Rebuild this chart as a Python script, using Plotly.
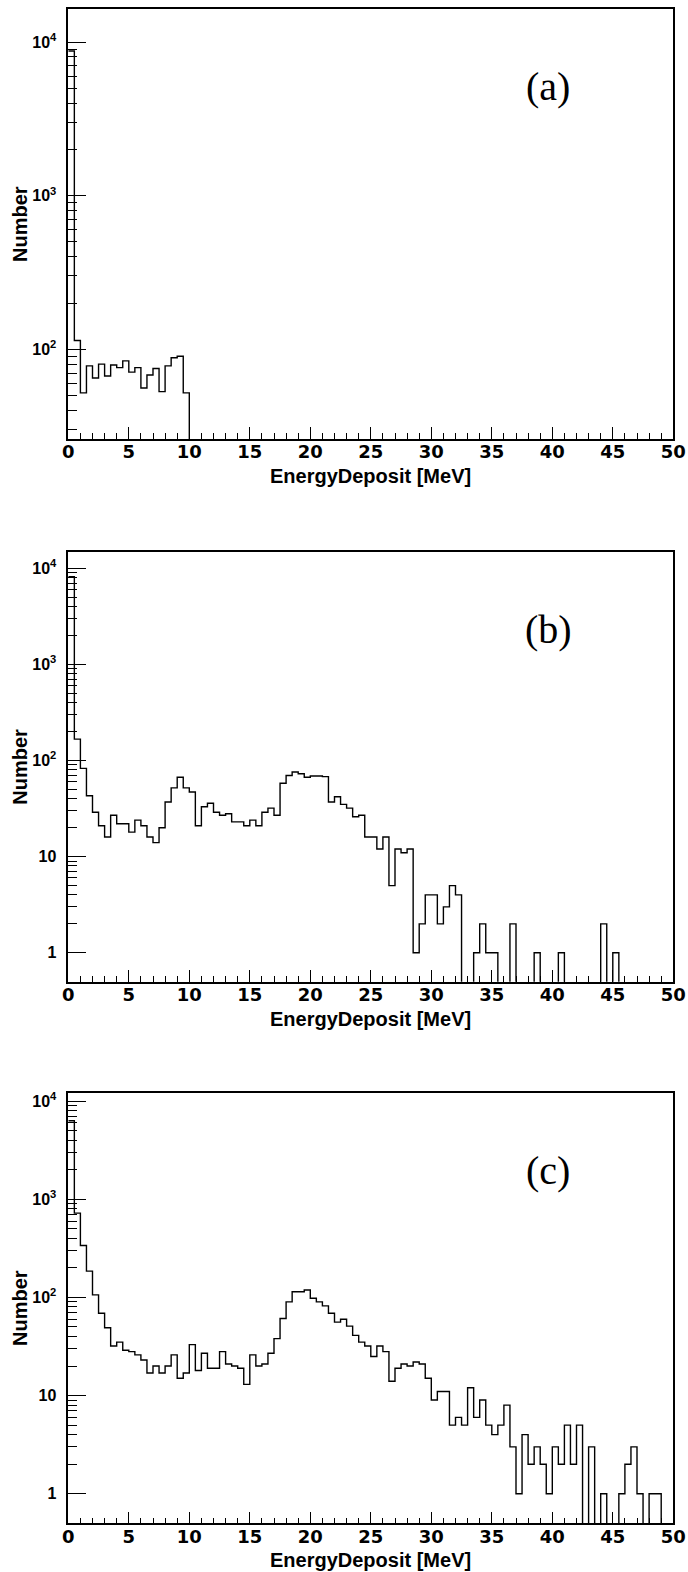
import plotly.graph_objects as go

# ---------------- data (counts per 0.5 MeV bin, 0-50 MeV) ----------------
bin_width = 0.5
n_bins = 100
x_edges = [i * bin_width for i in range(n_bins + 1)]

counts_a = [
    8740, 114, 52, 78, 65, 80, 67, 79, 76, 84,
    71, 76, 56, 68, 75, 53, 78, 88, 90, 52,
    0, 0, 0, 0, 0, 0, 0, 0, 0, 0,
    0, 0, 0, 0, 0, 0, 0, 0, 0, 0,
    0, 0, 0, 0, 0, 0, 0, 0, 0, 0,
    0, 0, 0, 0, 0, 0, 0, 0, 0, 0,
    0, 0, 0, 0, 0, 0, 0, 0, 0, 0,
    0, 0, 0, 0, 0, 0, 0, 0, 0, 0,
    0, 0, 0, 0, 0, 0, 0, 0, 0, 0,
    0, 0, 0, 0, 0, 0, 0, 0, 0, 0,
]

counts_b = [
    8180, 167, 83, 43, 29, 21, 16, 27, 22, 22,
    18, 24, 21, 16, 14, 20, 37, 52, 67, 52,
    47, 21, 33, 36, 29, 27, 28, 23, 23, 21,
    24, 21, 29, 32, 27, 58, 70, 76, 73, 67,
    69, 69, 68, 37, 42, 35, 32, 26, 27, 16,
    16, 12, 16, 5, 12, 11, 12, 1, 2, 4,
    4, 2, 3, 5, 4, 0, 0, 1, 2, 1,
    1, 0, 0, 2, 0, 0, 0, 1, 0, 0,
    0, 1, 0, 0, 0, 0, 0, 0, 2, 0,
    1, 0, 0, 0, 0, 0, 0, 0, 0, 0,
]

counts_c = [
    6310, 722, 338, 185, 106, 69, 49, 32, 35, 29,
    28, 26, 23, 17, 20, 17, 20, 26, 15, 17,
    33, 18, 27, 19, 19, 28, 21, 20, 19, 13,
    26, 20, 21, 27, 38, 61, 90, 114, 114, 119,
    98, 90, 82, 69, 56, 60, 51, 41, 35, 32,
    25, 32, 28, 14, 19, 21, 20, 22, 21, 15,
    9, 11, 11, 5, 6, 5, 12, 6, 9, 5,
    4, 5, 8, 3, 1, 4, 2, 3, 2, 1,
    3, 2, 5, 2, 5, 0, 3, 0, 1, 0,
    0, 1, 2, 3, 1, 0, 1, 1, 0, 0,
]

panel_labels = ["(a)", "(b)", "(c)"]
x_title = "EnergyDeposit [MeV]"
y_title = "Number"

x_tick_vals = [0, 5, 10, 15, 20, 25, 30, 35, 40, 45, 50]
x_tick_text = ["0", "5", "10", "15", "20", "25", "30", "35", "40", "45", "50"]

y_tick_vals_a = [100, 1000, 10000]
y_tick_text_a = ["10<sup>2</sup>", "10<sup>3</sup>", "10<sup>4</sup>"]
y_tick_vals_bc = [1, 10, 100, 1000, 10000]
y_tick_text_bc = ["1", "10", "10<sup>2</sup>", "10<sup>3</sup>", "10<sup>4</sup>"]

# log10 ranges of the y axes
y_range_a = [1.416, 4.215]
y_range_b = [-0.301, 4.173]
y_range_c = [-0.301, 4.085]

# ---------------- layout geometry ----------------
W, H = 688, 1572
x_dom = [68.3 / W, 673.3 / W]
frames_px = [(9.0, 439.0), (551.7, 981.7), (1092.7, 1523.3)]
y_doms = [[1 - b / H, 1 - t / H] for t, b in frames_px]

minor_y = [m * 10 ** e for e in range(0, 5) for m in range(2, 10)]

SANS = "Liberation Sans"
WIDE = "DejaVu Sans"
SERIF = "Liberation Serif"

fig = go.Figure()

panels = [
    (counts_a, y_tick_vals_a, y_tick_text_a, y_range_a),
    (counts_b, y_tick_vals_bc, y_tick_text_bc, y_range_b),
    (counts_c, y_tick_vals_bc, y_tick_text_bc, y_range_c),
]

layout_axes = {}
annotations = []
for i, (counts, yt_vals, yt_text, yr) in enumerate(panels):
    k = "" if i == 0 else str(i + 1)
    top_px, bot_px = frames_px[i]
    h_px = bot_px - top_px
    # zero-count bins are drawn below the axis floor (clipped), as a ROOT histogram
    draw = [c if c > 0 else 1e-3 for c in counts]
    fig.add_trace(go.Scatter(
        x=x_edges, y=draw + [draw[-1]],
        mode="lines", line=dict(shape="hv", color="black", width=1.4),
        xaxis="x" + k, yaxis="y" + k, showlegend=False, hoverinfo="skip",
    ))
    layout_axes["xaxis" + k] = dict(
        domain=x_dom, anchor="y" + k, range=[0, 50], automargin=False,
        tickmode="array", tickvals=x_tick_vals, ticktext=x_tick_text,
        ticks="inside", ticklen=12, tickwidth=1.2, tickcolor="black",
        minor=dict(ticks="inside", dtick=1, tick0=0, ticklen=6, tickwidth=1.2,
                   tickcolor="black", showgrid=False),
        showline=True, linecolor="black", linewidth=1.5, mirror=True,
        showgrid=False, zeroline=False,
        tickfont=dict(family=WIDE, size=18, color="black", weight="bold"),
        ticklabelstandoff=-4,
    )
    layout_axes["yaxis" + k] = dict(
        domain=y_doms[i], anchor="x" + k, type="log", range=yr, automargin=False,
        tickmode="array", tickvals=yt_vals, ticktext=yt_text,
        ticks="inside", ticklen=18, tickwidth=1.2, tickcolor="black",
        minor=dict(ticks="inside", tickmode="array", tickvals=minor_y, ticklen=9,
                   tickwidth=1.2, tickcolor="black", showgrid=False),
        showline=True, linecolor="black", linewidth=1.5, mirror=True,
        showgrid=False, zeroline=False,
        tickfont=dict(family=SANS, size=16, color="black", weight="bold"),
        ticklabelstandoff=7,
    )
    annotations.append(dict(
        text=panel_labels[i], xref="x" + k + " domain", yref="y" + k + " domain",
        x=0.793, y=0.82, xanchor="center", yanchor="middle", showarrow=False,
        font=dict(family=SERIF, size=40, color="black"),
    ))
    annotations.append(dict(
        text=x_title, xref="x" + k + " domain", yref="y" + k + " domain",
        x=0.5, y=-37 / h_px, xanchor="center", yanchor="middle", showarrow=False,
        font=dict(family=SANS, size=20, color="black", weight="bold"),
    ))
    annotations.append(dict(
        text=y_title, xref="paper", yref="y" + k + " domain",
        x=20 / W, y=0.5, xanchor="center", yanchor="middle", showarrow=False,
        textangle=-90,
        font=dict(family=SANS, size=20, color="black", weight="bold"),
    ))

fig.update_layout(
    template="none",
    width=W, height=H,
    margin=dict(l=0, r=0, t=0, b=0, pad=0),
    paper_bgcolor="white", plot_bgcolor="white",
    showlegend=False,
    annotations=annotations,
    **layout_axes,
)

fig.write_html("out.html")
